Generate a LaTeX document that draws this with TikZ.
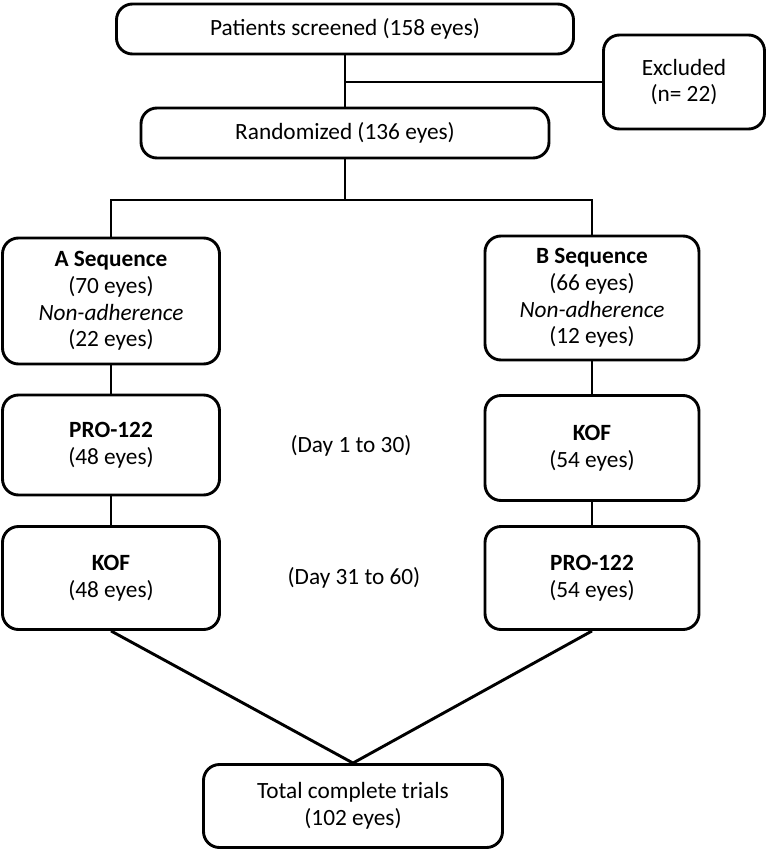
\documentclass[tikz,border=0pt]{standalone}
\usepackage{fontspec}
\setmainfont{Carlito}
\tikzset{
  box/.style={draw, rounded corners=16pt, line width=2.9pt, align=center, inner sep=2pt,
    font=\fontsize{23.3}{26.7}\selectfont},
  lbl/.style={align=center, font=\fontsize{23.3}{26.7}\selectfont},
  conn/.style={line width=2.9pt}
}
\begin{document}
\begin{tikzpicture}[x=1pt,y=-1pt]
    \useasboundingbox (0,0) rectangle (767,849);
    \node[box, minimum width=457pt, minimum height=50pt] (screen) at (345,29) {Patients screened (158 eyes)};
    \node[box, minimum width=161pt, minimum height=94pt] (excl) at (684,82) {Excluded\\(n= 22)};
    \node[box, minimum width=408pt, minimum height=50pt] (rand) at (345,133) {Randomized (136 eyes)};
    \coordinate (split) at (345,200);
    \node[box, minimum width=217pt, minimum height=126pt] (seqA) at (111,301) {\textbf{A Sequence}\\(70 eyes)\\\textit{Non-adherence}\\(22 eyes)};
    \node[box, minimum width=214pt, minimum height=124pt] (seqB) at (592,298) {\textbf{B Sequence}\\(66 eyes)\\\textit{Non-adherence}\\(12 eyes)};
    \node[box, minimum width=217pt, minimum height=100pt] (proA) at (111,445) {\textbf{PRO-122}\\(48 eyes)};
    \node[box, minimum width=214pt, minimum height=105pt] (kofB) at (592,448) {\textbf{KOF}\\(54 eyes)};
    \node[lbl] (dayone) at (351,446) {(Day 1 to 30)};
    \node[box, minimum width=217pt, minimum height=103pt] (kofA) at (111,578) {\textbf{KOF}\\(48 eyes)};
    \node[box, minimum width=214pt, minimum height=103pt] (proB) at (592,578) {\textbf{PRO-122}\\(54 eyes)};
    \node[lbl] (daytwo) at (354,578) {(Day 31 to 60)};
    \node[box, minimum width=299pt, minimum height=83pt] (total) at (353,806) {Total complete trials\\(102 eyes)};
    \draw[conn] (screen.south) -- (rand.north);
    \draw[conn] (excl.west) -- (excl.west -| rand.north);
    \draw[conn] (rand.south) -- (split);
    \draw[conn] (seqA.north) |- (split) -| (seqB.north);
    \draw[conn] (seqA.south) -- (proA.north);
    \draw[conn] (proA.south) -- (kofA.north);
    \draw[conn] (seqB.south) -- (kofB.north);
    \draw[conn] (kofB.south) -- (proB.north);
    \draw[conn] (kofA.south) -- (total.north);
    \draw[conn] (proB.south) -- (total.north);
\end{tikzpicture}
\end{document}
